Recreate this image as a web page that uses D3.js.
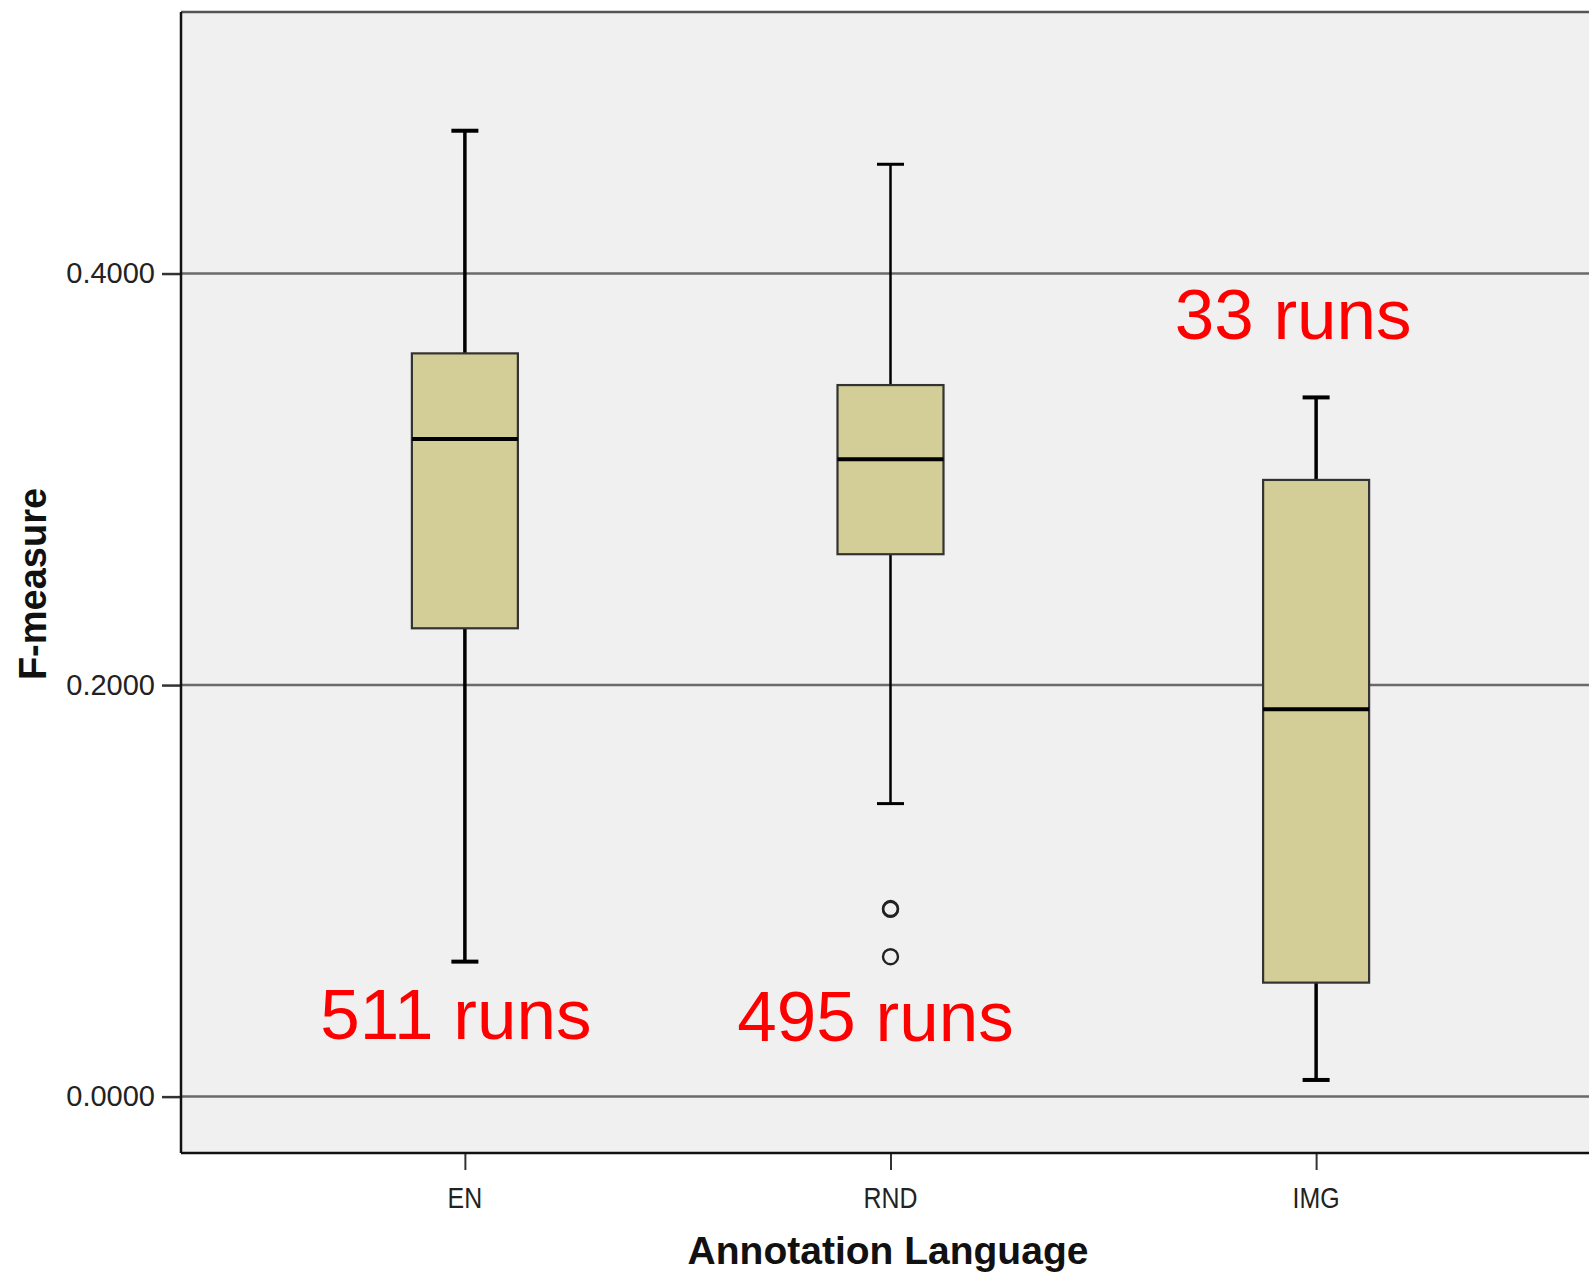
<!DOCTYPE html>
<html>
<head>
<meta charset="utf-8">
<script src="https://cdn.jsdelivr.net/npm/d3@7"></script>
<style>
  body { margin: 0; background: #fff; }
  svg { display: block; font-family: "Liberation Sans", Arial, sans-serif; }
</style>
</head>
<body>
<div id="chart"></div>
<script>
// Box plot: F-measure by annotation language
const categories = ["EN", "RND", "IMG"];
const whiskerLow = [0.0656, 0.1424, 0.0081];
const q1 = [0.2276, 0.2636, 0.0554];
const median = [0.3196, 0.3098, 0.1882];
const q3 = [0.3612, 0.3458, 0.2997];
const whiskerHigh = [0.4694, 0.4531, 0.3398];
const outlierCat = ["RND", "RND", "RND"];
const outlierVal = [0.0914, 0.0910, 0.0680];
const yTicks = [0, 0.2, 0.4];
const runLabels = ["511 runs", "495 runs", "33 runs"];
const runLabelAt = [0.028, 0.027, 0.368];

(() => {
    const W = 1589, H = 1272;
    const m = { top: 12, left: 181, bottom: 119 };
    const plotRight = 1600;

    const svg = d3.select("#chart").append("svg").attr("width", W).attr("height", H);

    const x = d3.scalePoint().domain(categories).range([m.left, plotRight]).padding(0.667);
    const y = d3.scaleLinear().domain([-0.0274, 0.5271]).range([H - m.bottom, m.top]);

    // plot background
    svg.append("rect")
        .attr("x", m.left).attr("y", m.top)
        .attr("width", plotRight - m.left).attr("height", H - m.bottom - m.top)
        .attr("fill", "#f0f0f0");

    // grid lines
    svg.append("g").selectAll("line")
        .data(yTicks)
        .join("line")
        .attr("x1", m.left).attr("x2", plotRight)
        .attr("y1", d => y(d)).attr("y2", d => y(d))
        .attr("stroke", "#6a6a6a").attr("stroke-width", 2.5);

    // top frame
    svg.append("line")
        .attr("x1", m.left).attr("x2", plotRight)
        .attr("y1", m.top).attr("y2", m.top)
        .attr("stroke", "#555").attr("stroke-width", 2.5);

    // axes
    const yAxis = svg.append("g")
        .attr("transform", `translate(${m.left},0)`)
        .call(d3.axisLeft(y).tickValues(yTicks).tickFormat(d3.format(".4f")).tickSize(19).tickPadding(7));
    yAxis.select(".domain").remove();
    yAxis.selectAll(".tick line").attr("stroke", "#333").attr("stroke-width", 2.5);
    yAxis.selectAll(".tick text").attr("font-size", 29).attr("fill", "#222")
        .attr("font-family", "'Liberation Sans', Arial, sans-serif");

    const xAxis = svg.append("g")
        .attr("transform", `translate(0,${H - m.bottom})`)
        .call(d3.axisBottom(x).tickSize(17).tickFormat(""));
    xAxis.select(".domain").remove();
    xAxis.selectAll(".tick line").attr("stroke", "#333").attr("stroke-width", 2);

    svg.append("g").selectAll("text")
        .data(categories)
        .join("text")
        .attr("transform", d => `translate(${x(d)},${1208}) scale(0.83,1)`)
        .attr("text-anchor", "middle")
        .attr("font-size", 30).attr("fill", "#222")
        .text(d => d);

    svg.append("line")
        .attr("x1", m.left).attr("x2", m.left)
        .attr("y1", m.top).attr("y2", H - m.bottom)
        .attr("stroke", "#111").attr("stroke-width", 2.5);
    svg.append("line")
        .attr("x1", m.left).attr("x2", plotRight)
        .attr("y1", H - m.bottom).attr("y2", H - m.bottom)
        .attr("stroke", "#111").attr("stroke-width", 2.5);

    // axis titles
    svg.append("text")
        .attr("x", 888).attr("y", 1264)
        .attr("text-anchor", "middle")
        .attr("font-size", 39).attr("font-weight", "bold").attr("fill", "#111")
        .text("Annotation Language");
    svg.append("text")
        .attr("transform", `translate(46,584) rotate(-90)`)
        .attr("text-anchor", "middle")
        .attr("font-size", 38).attr("font-weight", "bold").attr("fill", "#111")
        .text("F-measure");

    // boxes
    const boxW = 106, capW = 27;
    const boxes = categories.map((c, i) => ({
        c, lo: whiskerLow[i], q1: q1[i], med: median[i], q3: q3[i], hi: whiskerHigh[i]
    }));
    const g = svg.append("g");
    const b = g.selectAll("g").data(boxes).join("g");

    b.append("line")
        .attr("x1", d => x(d.c)).attr("x2", d => x(d.c))
        .attr("y1", d => y(d.hi)).attr("y2", d => y(d.q3))
        .attr("stroke", "#000").attr("stroke-width", d => d.c === "RND" ? 2.5 : 3.5);
    b.append("line")
        .attr("x1", d => x(d.c)).attr("x2", d => x(d.c))
        .attr("y1", d => y(d.q1)).attr("y2", d => y(d.lo))
        .attr("stroke", "#000").attr("stroke-width", d => d.c === "RND" ? 2.5 : 3.5);
    b.selectAll(".cap")
        .data(d => [d.hi, d.lo].map(v => ({ c: d.c, v })))
        .join("line")
        .attr("class", "cap")
        .attr("x1", d => x(d.c) - capW / 2).attr("x2", d => x(d.c) + capW / 2)
        .attr("y1", d => y(d.v)).attr("y2", d => y(d.v))
        .attr("stroke", "#000").attr("stroke-width", d => d.c === "RND" ? 3 : 4);
    b.append("rect")
        .attr("x", d => x(d.c) - boxW / 2).attr("width", boxW)
        .attr("y", d => y(d.q3)).attr("height", d => y(d.q1) - y(d.q3))
        .attr("fill", "#d3ce97").attr("stroke", "#333").attr("stroke-width", 2.2);
    b.append("line")
        .attr("x1", d => x(d.c) - boxW / 2).attr("x2", d => x(d.c) + boxW / 2)
        .attr("y1", d => y(d.med)).attr("y2", d => y(d.med))
        .attr("stroke", "#000").attr("stroke-width", 4);

    // outliers
    g.selectAll("circle")
        .data(outlierVal.map((v, i) => ({ c: outlierCat[i], v })))
        .join("circle")
        .attr("cx", d => x(d.c)).attr("cy", d => y(d.v))
        .attr("r", 7.5)
        .attr("fill", "none").attr("stroke", "#222").attr("stroke-width", 2.4);

    // run counts
    svg.append("g").selectAll("text")
        .data(runLabels)
        .join("text")
        .attr("x", (d, i) => x(categories[i]) - [9, 15, 23][i])
        .attr("y", (d, i) => y(runLabelAt[i]))
        .attr("text-anchor", "middle")
        .attr("font-size", 71).attr("fill", "#ff0000")
        .text(d => d);
})();
</script>
</body>
</html>
